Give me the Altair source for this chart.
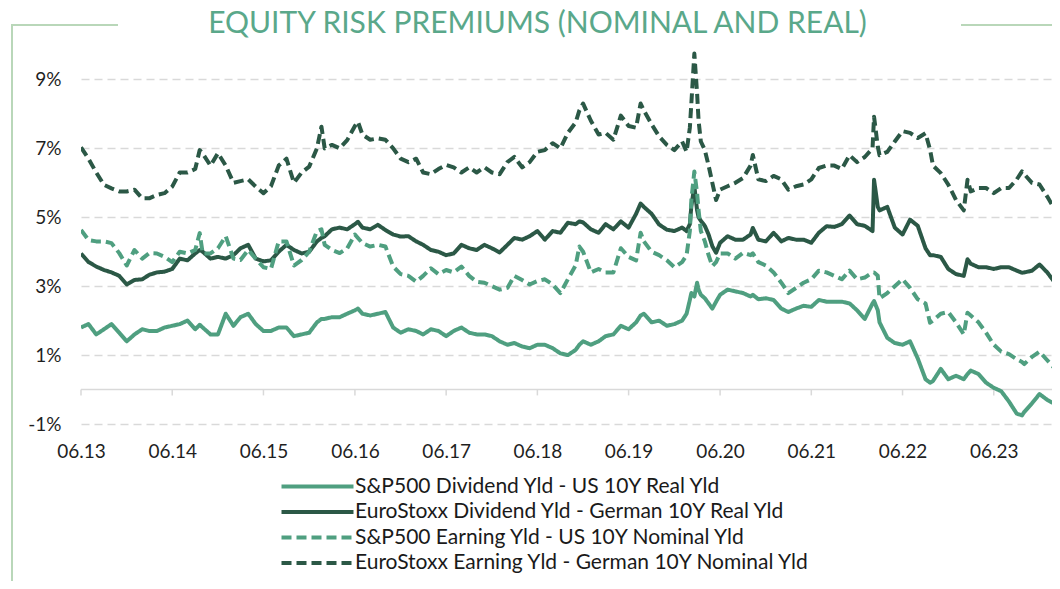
import altair as alt
import pandas as pd

# month offsets from June 2013 (fractional = extra readings at spikes)
months = [0, 1, 2, 3, 4, 5, 6, 7, 8, 9, 10, 11, 12, 13, 14, 15, 15.6, 16, 17, 18, 19, 20,
          21, 22, 23, 24, 25, 26, 27, 28, 29, 30, 31, 31.6, 32, 33, 34, 35, 36, 36.4, 37, 38,
          39, 40, 41, 42, 43, 44, 45, 46, 47, 48, 49, 50, 51, 52, 53, 54, 55, 56, 57, 58,
          59, 60, 61, 62, 63, 64, 65, 65.5, 66, 67, 68, 69, 70, 71, 72, 73, 73.6, 74, 75,
          76, 77, 78, 79, 79.6, 80, 80.2, 80.6, 81, 81.2, 81.5, 82, 82.5, 83, 83.5, 84, 85,
          86, 87, 88, 88.3, 89, 90, 91, 92, 93, 94, 95, 96, 97, 98, 99, 100, 101, 102, 103,
          104, 104.2, 104.7, 105, 106, 107, 108, 109, 110, 111, 111.6, 112, 113, 114, 115,
          116, 116.5, 117, 118, 119, 120, 121, 122, 123, 123.7, 124, 125, 126, 127, 128]

sp_div_real = [1.8, 1.9, 1.6, 1.75, 1.9, 1.65, 1.4, 1.6, 1.75, 1.7, 1.7, 1.8, 1.85, 1.9, 2.0,
               1.75, 1.88, 1.8, 1.6, 1.6, 2.2, 1.85, 2.1, 2.2, 1.9, 1.7, 1.7, 1.8, 1.8, 1.55,
               1.6, 1.65, 1.95, 2.05, 2.05, 2.1, 2.1, 2.2, 2.3, 2.35, 2.2, 2.15, 2.2, 2.25,
               1.8, 1.65, 1.75, 1.7, 1.6, 1.75, 1.7, 1.55, 1.7, 1.8, 1.65, 1.6, 1.6, 1.55,
               1.4, 1.3, 1.35, 1.25, 1.2, 1.3, 1.3, 1.2, 1.05, 1.0, 1.15, 1.3, 1.4, 1.3, 1.4,
               1.55, 1.6, 1.85, 1.75, 1.95, 2.15, 2.2, 1.95, 2.0, 1.85, 1.9, 2.0, 2.2, 2.6,
               2.8, 2.7, 3.1, 2.9, 2.75, 2.65, 2.5, 2.35, 2.55, 2.75, 2.9, 2.85, 2.8, 2.7,
               2.75, 2.62, 2.65, 2.6, 2.35, 2.25, 2.35, 2.43, 2.4, 2.6, 2.55, 2.55, 2.55, 2.5,
               2.3, 2.05, 2.5, 2.57, 2.3, 1.95, 1.5, 1.35, 1.3, 1.4, 0.9, 0.3, 0.2, 0.25, 0.6,
               0.3, 0.4, 0.3, 0.45, 0.55, 0.45, 0.2, 0.05, -0.05, -0.35, -0.7, -0.75, -0.65,
               -0.4, -0.13, -0.3, -0.42]

eu_div_real = [3.95, 3.7, 3.57, 3.47, 3.4, 3.3, 3.05, 3.18, 3.2, 3.33, 3.4, 3.42, 3.5, 3.8,
               3.75, 3.95, 4.05, 4.0, 3.8, 3.85, 3.8, 3.9, 4.1, 4.2, 3.8, 3.72, 3.75, 4.0, 4.2,
               4.05, 3.95, 4.0, 4.3, 4.4, 4.45, 4.65, 4.7, 4.65, 4.8, 4.87, 4.7, 4.65, 4.78,
               4.63, 4.5, 4.44, 4.45, 4.3, 4.2, 4.05, 4.0, 3.9, 3.95, 4.2, 4.1, 4.05, 4.2, 4.1,
               3.98, 4.2, 4.4, 4.35, 4.45, 4.6, 4.35, 4.6, 4.55, 4.84, 4.8, 4.88, 4.85, 4.65,
               4.55, 4.8, 4.65, 4.88, 4.7, 5.1, 5.4, 5.3, 5.1, 4.79, 4.64, 4.6, 4.7, 4.6, 4.8,
               5.32, 5.9, 5.2, 5.0, 4.9, 4.75, 4.5, 4.16, 3.97, 4.26, 4.45, 4.35, 4.35, 4.5,
               4.69, 4.35, 4.3, 4.55, 4.3, 4.4, 4.35, 4.35, 4.26, 4.55, 4.74, 4.72, 4.8, 5.05,
               4.8, 4.75, 4.6, 6.09, 5.3, 5.2, 5.3, 4.7, 4.5, 4.93, 4.75, 4.1, 3.9, 3.9, 3.85,
               3.5, 3.35, 3.3, 3.78, 3.65, 3.55, 3.55, 3.5, 3.55, 3.55, 3.45, 3.39, 3.4, 3.45,
               3.63, 3.4, 3.1]

sp_earn_nom = [4.63, 4.34, 4.3, 4.3, 4.25, 3.96, 3.6, 4.05, 3.8, 3.96, 3.95, 3.85, 3.7, 4.0,
               3.95, 4.05, 4.54, 3.95, 3.95, 4.1, 4.45, 3.8, 3.76, 4.05, 3.8, 3.55, 3.5, 4.3,
               4.3, 3.6, 3.76, 4.0, 4.6, 4.65, 4.2, 4.05, 3.96, 4.1, 4.5, 4.4, 4.25, 4.15, 4.2,
               4.15, 3.57, 3.35, 3.3, 3.13, 3.3, 3.52, 3.35, 3.47, 3.4, 3.57, 3.3, 3.13, 3.1,
               3.0, 2.9, 2.95, 3.3, 3.18, 3.05, 3.15, 3.2, 3.05, 2.8, 3.2, 3.6, 4.15, 4.0, 3.4,
               3.5, 3.4, 3.4, 4.1, 3.85, 3.75, 4.55, 4.3, 4.0, 3.9, 3.75, 3.55, 3.7, 3.9, 4.6,
               5.5, 6.33, 5.7, 5.2, 4.6, 4.3, 3.9, 3.58, 3.7, 3.95, 3.95, 3.8, 3.97, 3.9, 3.95,
               3.7, 3.6, 3.4, 3.1, 2.8, 2.95, 3.1, 3.2, 3.45, 3.4, 3.3, 3.2, 3.45, 3.2, 3.25,
               3.4, 3.4, 3.3, 2.65, 2.8, 3.0, 3.2, 2.95, 2.62, 2.5, 1.94, 2.0, 2.2, 2.25, 1.95,
               1.6, 2.23, 2.15, 1.95, 1.65, 1.3, 1.1, 1.03, 0.88, 0.8, 0.74, 0.95, 1.1, 0.85,
               0.6]

eu_earn_nom = [7.03, 6.7, 6.3, 5.94, 5.84, 5.75, 5.75, 5.8, 5.55, 5.55, 5.65, 5.7, 5.89, 6.3,
               6.3, 6.4, 6.95, 6.85, 6.5, 6.86, 6.5, 6.0, 6.05, 6.1, 5.89, 5.7, 5.9, 6.5, 6.7,
               6.0, 6.3, 6.47, 7.0, 7.63, 7.0, 7.1, 7.0, 7.24, 7.65, 7.77, 7.4, 7.25, 7.29,
               7.25, 7.0, 6.7, 6.6, 6.7, 6.3, 6.25, 6.4, 6.52, 6.45, 6.3, 6.45, 6.3, 6.45, 6.3,
               6.25, 6.6, 6.75, 6.45, 6.6, 6.9, 6.95, 7.15, 7.0, 7.45, 7.75, 8.1, 8.3, 7.8, 7.4,
               7.45, 7.25, 7.95, 7.65, 7.6, 8.3, 8.1, 7.7, 7.35, 7.1, 6.95, 7.2, 6.9, 7.6, 8.3,
               9.75, 8.6, 7.8, 7.2, 6.95, 6.5, 6.0, 5.5, 5.8, 5.9, 6.0, 6.14, 6.5, 6.81, 6.1,
               6.05, 6.2, 6.1, 5.8, 5.9, 5.95, 6.1, 6.43, 6.5, 6.5, 6.4, 6.8, 6.6, 6.75, 7.0,
               7.92, 7.05, 6.8, 6.9, 7.2, 7.5, 7.45, 7.3, 7.44, 6.96, 6.5, 6.28, 5.95, 5.5, 5.2,
               6.09, 5.75, 5.85, 5.85, 5.7, 5.85, 5.85, 6.1, 6.33, 6.25, 6.0, 5.95, 5.6, 5.22]

series_names = [
    "S&P500 Dividend Yld - US 10Y Real Yld",
    "EuroStoxx Dividend Yld - German 10Y Real Yld",
    "S&P500 Earning Yld - US 10Y Nominal Yld",
    "EuroStoxx Earning Yld - German 10Y Nominal Yld",
]
title_text = "EQUITY RISK PREMIUMS (NOMINAL AND REAL)"
tick_years = list(range(2013, 2024))
y_ticks = [-1, 1, 3, 5, 7, 9]

LIGHT = "#4f9f80"
DARK = "#2b5846"
FRAME = "#b9d7b9"
GRID = "#d9d9d9"
FONT = "Lato"


def month_to_date(m):
    whole = int(m)
    base = pd.Timestamp("2013-06-01") + pd.DateOffset(months=whole)
    return (base + pd.Timedelta(days=round((m - whole) * 30.4))).strftime("%Y-%m-%dT00:00:00")


dates = [month_to_date(m) for m in months]
rows = []
for name, vals in zip(series_names, [sp_div_real, eu_div_real, sp_earn_nom, eu_earn_nom]):
    for d, v in zip(dates, vals):
        rows.append({"date": d, "value": v, "series": name})
df = pd.DataFrame(rows)

W, H = 971, 379
x_scale = alt.Scale(domain=[alt.DateTime(year=2013, month=6, date=1),
                            alt.DateTime(year=2024, month=1, date=20)])
y_scale = alt.Scale(domain=[-1, 10], nice=False, zero=False)

legend_cfg = dict(title=None, orient="none", legendX=226, legendY=431,
                  symbolType="M-6,0H6", symbolSize=144, symbolStrokeWidth=4,
                  labelFont=FONT, labelFontSize=21, labelColor="#1a1a1a", labelOffset=27,
                  rowPadding=3.5, labelLimit=700, padding=0)

lines = alt.Chart(df).mark_line(strokeWidth=4, clip=True, strokeCap="butt", strokeJoin="round").encode(
    x=alt.X("date:T", scale=x_scale,
            axis=alt.Axis(values=[alt.DateTime(year=y, month=6, date=1) for y in tick_years],
                          format="%m.%y", grid=False, domain=False, ticks=False,
                          labelPadding=18, labelFont=FONT, labelFontSize=19,
                          labelColor="#1f1f1f", labelFlush=False, labelOverlap=False, title=None)),
    y=alt.Y("value:Q", scale=y_scale,
            axis=alt.Axis(values=y_ticks, labelExpr="datum.value + '%'", grid=True,
                          gridDash=[8, 5], gridColor=GRID, gridWidth=1.5, domain=False,
                          ticks=False, labelPadding=20, labelFont=FONT, labelFontSize=19,
                          labelColor="#1f1f1f", title=None)),
    color=alt.Color("series:N", sort=series_names,
                    scale=alt.Scale(domain=series_names, range=[LIGHT, DARK, LIGHT, DARK]),
                    legend=alt.Legend(**legend_cfg)),
    strokeDash=alt.StrokeDash("series:N", sort=series_names,
                              scale=alt.Scale(domain=series_names,
                                              range=[[1, 0], [1, 0], [10, 5], [10, 5]]),
                              legend=alt.Legend(**legend_cfg)),
    order=alt.Order("date:T"),
)

ticks_df = pd.DataFrame({"date": [f"{y}-06-01T00:00:00" for y in tick_years]})
baseline = alt.Chart(pd.DataFrame({"v": [0]})).mark_rule(color=GRID, strokeWidth=1.5).encode(
    y=alt.Y("v:Q", scale=y_scale), x=alt.value(0), x2=alt.value(W))
tick_marks = alt.Chart(ticks_df).mark_rule(color=GRID, strokeWidth=1.5).encode(
    x=alt.X("date:T", scale=x_scale), y=alt.datum(0), y2=alt.datum(-0.17))

one = pd.DataFrame({"a": [0]})
frame_v = alt.Chart(one).mark_rule(color=FRAME, strokeWidth=2).encode(
    x=alt.value(-69), y=alt.value(-20), y2=alt.value(540))
frame_h1 = alt.Chart(one).mark_rule(color=FRAME, strokeWidth=2).encode(
    x=alt.value(-70), x2=alt.value(37), y=alt.value(-20))
frame_h2 = alt.Chart(one).mark_rule(color=FRAME, strokeWidth=2).encode(
    x=alt.value(880), x2=alt.value(980), y=alt.value(-20))
title_mark = alt.Chart(pd.DataFrame({"t": [title_text]})).mark_text(
    font=FONT, fontSize=30, color="#5aa88a", align="center", baseline="alphabetic").encode(
    text="t:N", x=alt.value(456.5), y=alt.value(-12))

chart = alt.layer(baseline, tick_marks, lines, frame_v, frame_h1, frame_h2, title_mark).properties(
    width=W, height=H,
    background="white",
    autosize=alt.AutoSizeParams(type="none"),
    padding={"left": 73, "top": 37, "right": 0, "bottom": 157},
).configure_view(strokeWidth=0, stroke="transparent")

chart.save("out.html", embed_options={"renderer": "svg", "actions": False})
